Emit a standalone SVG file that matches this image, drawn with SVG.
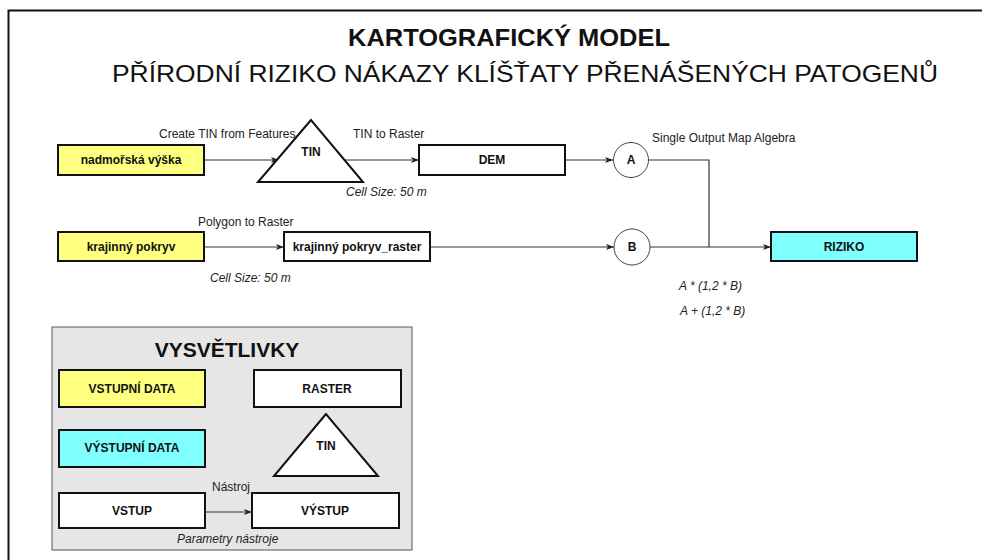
<svg xmlns="http://www.w3.org/2000/svg" width="982" height="560" viewBox="0 0 982 560">
<style>
.box{stroke:#111;stroke-width:2}
.in{fill:#ffff80}
.out{fill:#80ffff}
.ras{fill:#fff}
.tri{fill:#fff;stroke:#111;stroke-width:2}
.circ{fill:#fff;stroke:#444;stroke-width:1}
.nt{font-family:"Liberation Sans",Arial,sans-serif;font-weight:bold;font-size:12px;fill:#111;text-anchor:middle}
.lbl{font-family:"Liberation Sans",Arial,sans-serif;font-size:12px;fill:#222}
.it{font-family:"Liberation Sans",Arial,sans-serif;font-size:12px;font-style:italic;fill:#222}
.con{fill:none;stroke:#333;stroke-width:1.2}
</style>
<defs>
<marker id="arr" viewBox="0 0 8 8" refX="8" refY="4" markerWidth="8" markerHeight="8" markerUnits="userSpaceOnUse" orient="auto">
<path d="M0,1 L8,4 L0,7 L2,4 Z" fill="#222"/>
</marker>
</defs>
<rect width="982" height="560" fill="#fff"/>
<rect x="8.5" y="10.5" width="1000" height="600" fill="none" stroke="#111" stroke-width="2"/>
<g id="title">
<text x="509" y="46" font-family="'Liberation Sans',Arial,sans-serif" font-weight="bold" font-size="24" text-anchor="middle" textLength="322" lengthAdjust="spacingAndGlyphs" fill="#111">KARTOGRAFICKÝ MODEL</text>
<text x="525" y="82" font-family="'Liberation Sans',Arial,sans-serif" font-size="24" text-anchor="middle" textLength="826" lengthAdjust="spacingAndGlyphs" fill="#111">PŘÍRODNÍ RIZIKO NÁKAZY KLÍŠŤATY PŘENÁŠENÝCH PATOGENŮ</text>
</g>
<g id="connectors">
<line class="con" x1="204" y1="160" x2="279" y2="160" marker-end="url(#arr)"/>
<line class="con" x1="343" y1="160" x2="419" y2="160" marker-end="url(#arr)"/>
<line class="con" x1="565" y1="160" x2="613" y2="160" marker-end="url(#arr)"/>
<polyline class="con" points="648,160 709,160 709,247"/>
<line class="con" x1="204" y1="247" x2="284" y2="247" marker-end="url(#arr)"/>
<line class="con" x1="430" y1="247" x2="614" y2="247" marker-end="url(#arr)"/>
<line class="con" x1="650" y1="247" x2="771" y2="247" marker-end="url(#arr)"/>
<text class="lbl" x="159" y="138">Create TIN from Features</text>
<text class="lbl" x="353" y="138">TIN to Raster</text>
<text class="it" x="346" y="196">Cell Size: 50 m</text>
<text class="lbl" x="198" y="226">Polygon to Raster</text>
<text class="it" x="210" y="282">Cell Size: 50 m</text>
<text class="lbl" x="652" y="142">Single Output Map Algebra</text>
<text class="it" x="679" y="290">A * (1,2 * B)</text>
<text class="it" x="680" y="315">A + (1,2 * B)</text>
</g>
<g id="nadmorska">
<rect class="box in" x="58" y="145" width="146" height="30"/>
<text class="nt" x="131" y="164">nadmořská výška</text>
</g>
<g id="tin">
<polygon class="tri" points="311,120 258,182 363,182"/>
<text class="nt" x="311" y="156" font-size="11">TIN</text>
</g>
<g id="dem">
<rect class="box ras" x="419" y="145" width="146" height="30"/>
<text class="nt" x="492" y="164">DEM</text>
</g>
<g id="a">
<circle class="circ" cx="631" cy="160" r="17.5"/>
<text class="nt" x="631" y="164">A</text>
</g>
<g id="krajinny">
<rect class="box in" x="58" y="232" width="146" height="29"/>
<text class="nt" x="131" y="251">krajinný pokryv</text>
</g>
<g id="krajinny_raster">
<rect class="box ras" x="284" y="232" width="146" height="29"/>
<text class="nt" x="357" y="251">krajinný pokryv_raster</text>
</g>
<g id="b">
<circle class="circ" cx="632" cy="247" r="18"/>
<text class="nt" x="632" y="251">B</text>
</g>
<g id="riziko">
<rect class="box out" x="771" y="232" width="146" height="29"/>
<text class="nt" x="844" y="251">RIZIKO</text>
</g>
<g id="legend">
<rect x="52" y="327" width="360" height="223" fill="#e6e6e6" stroke="#555" stroke-width="1"/>
<text x="227" y="357" font-family="'Liberation Sans',Arial,sans-serif" font-weight="bold" font-size="21" text-anchor="middle" fill="#111">VYSVĚTLIVKY</text>
<rect class="box in" x="59" y="370" width="146" height="37"/>
<text class="nt" x="132" y="393">VSTUPNÍ DATA</text>
<rect class="box ras" x="254" y="370" width="147" height="37"/>
<text class="nt" x="327" y="393">RASTER</text>
<rect class="box out" x="59" y="430" width="146" height="37"/>
<text class="nt" x="132" y="452">VÝSTUPNÍ DATA</text>
<polygon class="tri" points="326,414 274,476 378,476"/>
<text class="nt" x="326" y="450" font-size="11">TIN</text>
<rect class="box ras" x="59" y="493" width="146" height="35"/>
<text class="nt" x="132" y="515">VSTUP</text>
<rect class="box ras" x="252" y="493" width="147" height="35"/>
<text class="nt" x="325" y="515">VÝSTUP</text>
<line class="con" x1="205" y1="512" x2="252" y2="512" marker-end="url(#arr)"/>
<text class="lbl" x="212" y="491">Nástroj</text>
<text class="it" x="177" y="543">Parametry nástroje</text>
</g>
</svg>
